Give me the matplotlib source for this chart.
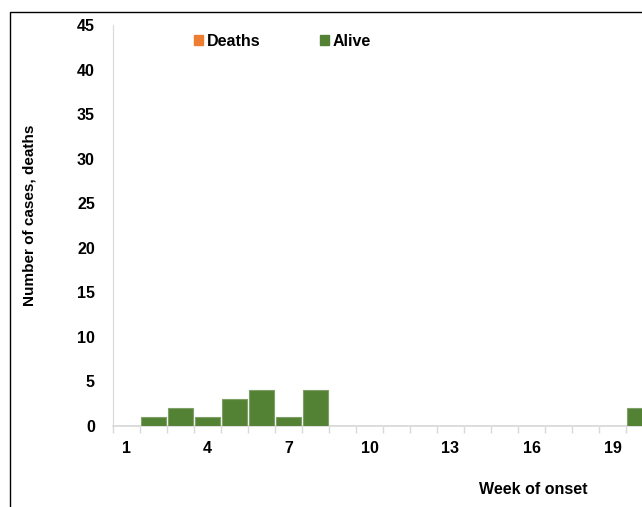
import numpy as np
import matplotlib.pyplot as plt
from matplotlib.patches import Patch, Rectangle

plt.rcParams['font.family'] = ['Liberation Sans', 'DejaVu Sans']

# data
weeks = list(range(1, 21))
alive = [0, 1, 2, 1, 3, 4, 1, 4, 0, 0, 0, 0, 0, 0, 0, 0, 0, 0, 0, 2]
deaths = [0] * 20
week_labels = [1, 4, 7, 10, 13, 16, 19]

green = '#548235'
orange = '#ed7d31'
grid_grey = '#d9d9d9'

W, H = 642, 507
fig = plt.figure(figsize=(W / 100, H / 100), dpi=100)
ax = fig.add_axes([113 / W, (H - 426) / H, (W - 113) / W, (426 - 25) / H])

x = np.array(weeks)
ax.bar(x, alive, width=0.92, color=green, edgecolor='#7fa066', linewidth=0.8, zorder=3)
ax.bar(x, deaths, bottom=alive, width=0.92, color=orange, linewidth=0, zorder=3)

ax.set_yticks(range(0, 46, 5))
ax.set_xticks(week_labels)
ax.set_xticks(np.arange(0.5, 21, 1), minor=True)
ax.set_xlim(0.5, 0.5 + (W - 113) / 27.0)
ax.set_ylim(0, 45)
ax.tick_params(axis='x', which='major', length=0, pad=11)
ax.tick_params(axis='x', which='minor', length=5, color=grid_grey, width=1)
ax.tick_params(axis='y', length=0, pad=13)
for lab in ax.get_xticklabels() + ax.get_yticklabels():
    lab.set_fontweight('bold')
    lab.set_fontsize(11.5)

for s in ['top', 'right']:
    ax.spines[s].set_visible(False)
ax.spines['left'].set_color(grid_grey)
ax.spines['bottom'].set_color(grid_grey)
ax.spines['bottom'].set_linewidth(1.2)

fig.text(30 / W, (H - 215) / H, 'Number of cases, deaths', rotation=90,
         ha='center', va='center', fontsize=11, fontweight='bold')
fig.text(533 / W, (H - 490) / H, 'Week of onset', ha='center', va='center',
         fontsize=11.5, fontweight='bold')

handles = [Patch(color=orange, label='Deaths'), Patch(color=green, label='Alive')]
leg = fig.legend(handles=handles, loc='center left', ncol=2, frameon=False,
                 bbox_to_anchor=(180 / W, (H - 41) / H), handlelength=0.55,
                 handleheight=0.55, handletextpad=0.25, columnspacing=3.7,
                 prop={'weight': 'bold', 'size': 11.5})

fig.patches.append(Rectangle((9.5 / W, -0.1), 2, 1.1 - 12 / H, transform=fig.transFigure,
                             fill=False, edgecolor='black', linewidth=1, clip_on=False))

fig.savefig('out.png', dpi=100)
